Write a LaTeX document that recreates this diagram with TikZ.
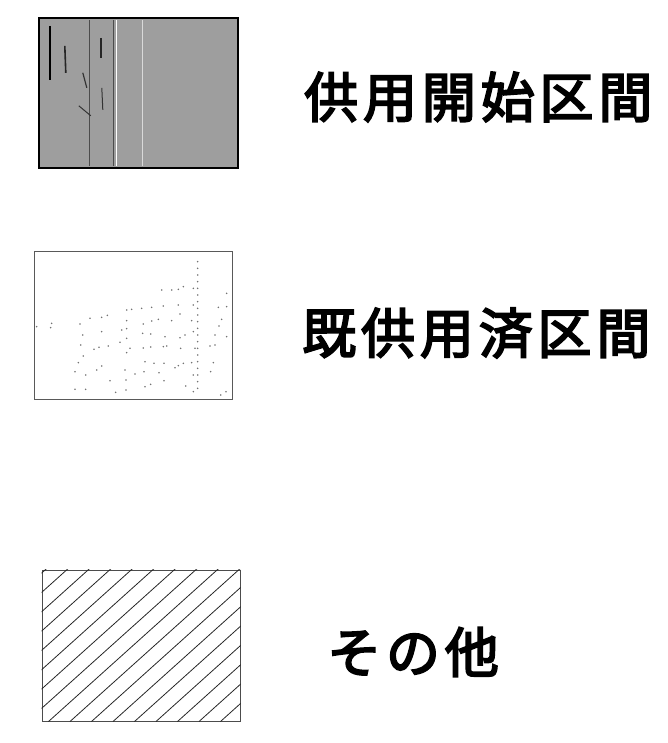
\documentclass[tikz,border=0pt]{standalone}
\usepackage{fontspec}
\newfontfamily\cjk[LetterSpace=9,FakeBold=3.5]{Noto Sans CJK JP}
\usetikzlibrary{calc}
\tikzset{
  legendbox/.style={minimum width=198pt, minimum height=150pt, inner sep=0pt, anchor=center},
  label/.style={font=\cjk\fontsize{54pt}{60pt}\selectfont, inner sep=0pt, anchor=west},
  hatch/.style={draw=black!85, line width=0.8pt},
  speck/.style={fill=black!55},
}
\begin{document}
\begin{tikzpicture}[x=1pt,y=-1pt]
\useasboundingbox (0,0) rectangle (667,743);
% box 1 : textured grey
\node[legendbox, fill=black!38, minimum width=199pt] (b1) at (138.5,93) {};
\draw[white, line width=1.2pt] ($(b1.north west)+(78,2)$) -- ($(b1.south west)+(78,-2)$);
\draw[white!85!black, line width=1pt] ($(b1.north west)+(104,2)$) -- ($(b1.south west)+(104,-2)$);
\draw[black!70, line width=0.8pt] ($(b1.north west)+(51,2)$) -- ($(b1.south west)+(51,-2)$);
\draw[black!70, line width=0.8pt] ($(b1.north west)+(75,2)$) -- ($(b1.south west)+(75,-2)$);
\draw[black, line width=2pt] ($(b1.north west)+(11,8)$) -- ($(b1.north west)+(11,62)$);
\draw[black!85, line width=1.6pt] ($(b1.north west)+(26,28)$) -- ($(b1.north west)+(27,55)$);
\draw[black!85, line width=1.4pt] ($(b1.north west)+(62,20)$) -- ($(b1.north west)+(62,40)$);
\draw[black!80, line width=1.2pt] ($(b1.north west)+(44,55)$) -- ($(b1.north west)+(48,70)$);
\draw[black!80, line width=1pt] ($(b1.north west)+(40,88)$) -- ($(b1.north west)+(52,98)$);
\draw[black!80, line width=1pt] ($(b1.north west)+(63,70)$) -- ($(b1.north west)+(64,92)$);
\draw[black, line width=1.8pt] (b1.north west) rectangle (b1.south east);
% box 2 : sparse dots
\node[legendbox, minimum height=148pt, draw=black!65, line width=0.8pt] (b2) at (133,325) {};
\begin{scope}[shift={(20,230)}, x=0.3333pt, y=-0.3333pt]
\foreach \yy in {95,115,...,490} \fill[speck] (533,\yy) circle (2.6);
\foreach \p in {(425,180),(455,180),(475,178),(490,170),(520,175),(430,228),(475,225),(520,225),(395,232),(365,235),(320,240),(335,238),(595,232),(620,230),(620,190),(210,265),(245,262),(262,256),(95,280),(92,293),(50,290),(180,282),(320,272),(370,282),(395,273),(415,268),(455,272),(480,252),(515,272),(605,268),(597,288),(188,315),(245,305),(305,300),(320,296),(368,310),(392,312),(435,320),(480,323),(495,315),(520,305),(585,315),(620,320),(182,345),(222,358),(237,352),(265,348),(300,337),(320,325),(330,355),(370,354),(392,351),(430,350),(440,348),(482,355),(525,355),(570,348),(585,345),(190,378),(320,368),(175,398),(245,408),(230,420),(165,425),(197,435),(315,420),(345,432),(375,395),(402,400),(432,400),(465,413),(475,407),(490,400),(515,398),(580,398),(572,425),(270,452),(318,450),(375,470),(392,463),(432,452),(417,428),(372,425),(497,468),(520,435),(520,485),(165,478),(197,478),(287,487),(318,480),(602,495),(618,485)}
  \fill[speck] \p circle (2.6);
\end{scope}
% box 3 : hatched
\node[legendbox, minimum height=151pt, draw=black!70, line width=1pt] (b3) at (141,645.5) {};
\begin{scope}
\clip (b3.south west) rectangle (b3.north east);
\foreach \k in {-8,...,9}
  \draw[hatch] ($(b3.south west)+(7+21.5*\k,0)$) -- ++(336,-302);
\end{scope}
% labels
\node[label] (t1) at (304,97) {供用開始区間};
\node[label] (t2) at (302,333) {既供用済区間};
\node[label] (t3) at (327,652) {その他};
\end{tikzpicture}
\end{document}
